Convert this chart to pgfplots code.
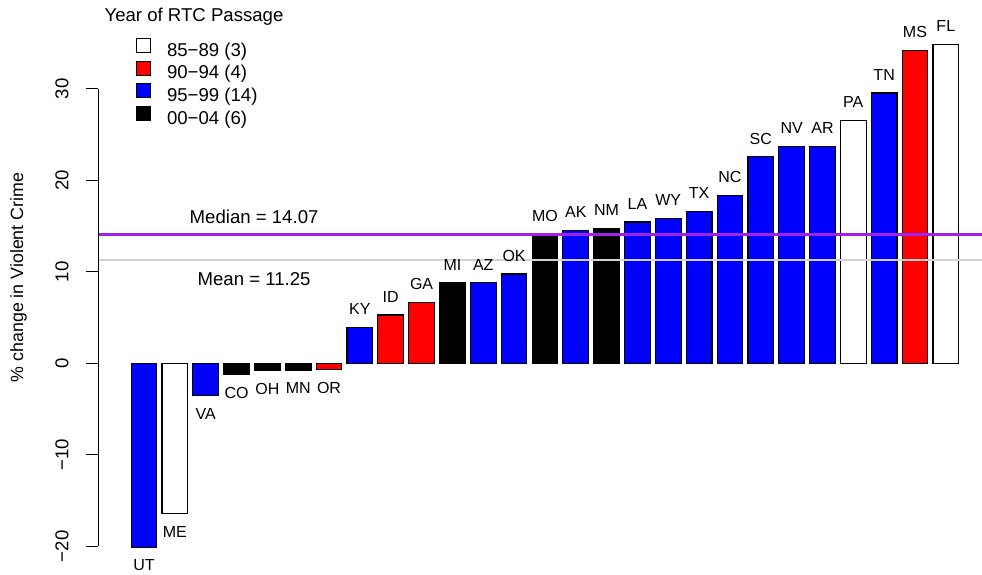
\documentclass[border=0pt]{standalone}
\usepackage{pgfplots}
\pgfplotsset{compat=1.18}
\usepackage{fontspec}
\setmainfont{Liberation Sans}
\definecolor{rpurple}{HTML}{A020F0}
\definecolor{rgray}{HTML}{D3D3D3}
\definecolor{rblue}{RGB}{0,0,255}
\definecolor{rred}{RGB}{255,0,0}
\pgfplotsset{
  legbox/.style={legend image code/.code={\draw[##1, line width=1pt] (0pt,-0.8pt) rectangle (14pt,13.2pt);}},
  statebar/.style={ybar, bar width=0.833, bar shift=0pt, draw=black, line width=1.1pt,
    nodes near coords, point meta=explicit symbolic,
    visualization depends on={y \as \rawy},
    every node near coord/.append style={anchor=center, text=black, inner sep=0pt,
      font=\fontsize{16}{19}\selectfont, yshift={\rawy<0 ? -18.3 : 18.3}},
    legbox},
}
\begin{document}
\begin{tikzpicture}[font=\fontsize{18.6}{22}\selectfont]
\useasboundingbox (0,0) rectangle (982pt,574pt);
\begin{axis}[
  at={(98pt,7.6pt)}, anchor=south west,
  scale only axis, width=884pt, height=543.5pt,
  xmin=-1.4916, xmax=27.173, ymin=-22.2, ymax=37.2,
  clip=false,
  axis x line=none,
  axis y line=left, y axis line style={draw=none, -},
  ytick={-20,-10,0,10,20,30},
  yticklabels={−20,−10,0,10,20,30},
  tick align=outside, major tick length=12pt,
  tick style={black, line width=1pt},
  yticklabel style={xshift=-24pt, rotate=90, anchor=center, inner sep=0pt},
  ylabel={\% change in Violent Crime},
  every axis y label/.style={at={(axis description cs:-0.0899,0.5316)}, rotate=90, anchor=center, font=\fontsize{17.8}{21}\selectfont},
  legend style={at={(0.0430,0.9722)}, anchor=north west, draw=none, fill=none,
    inner sep=0pt, outer sep=0pt, row sep=0pt, column sep=16pt,
    nodes={inner sep=0pt, text height=13.5pt, text depth=4.5pt}},
  legend cell align=left,
]
% 85-89 (white)
\addplot[statebar, fill=white] coordinates {
  (1,-16.44) [ME] (23,26.51) [PA] (26,34.82) [FL]};
% 90-94 (red)
\addplot[statebar, fill=rred] coordinates {
  (6,-0.66) [OR] (8,5.28) [ID] (9,6.62) [GA] (25,34.2) [MS]};
% 95-99 (blue)
\addplot[statebar, fill=rblue] coordinates {
  (0,-20.1) [UT] (2,-3.57) [VA] (7,3.93) [KY] (11,8.78) [AZ] (12,9.76) [OK]
  (14,14.5) [AK] (16,15.44) [LA] (17,15.8) [WY] (18,16.6) [TX] (19,18.32) [NC]
  (20,22.55) [SC] (21,23.71) [NV] (22,23.71) [AR] (24,29.54) [TN]};
% 00-04 (black)
\addplot[statebar, fill=black] coordinates {
  (3,-1.24) [CO] (4,-0.8) [OH] (5,-0.73) [MN] (10,8.78) [MI] (13,14.07) [MO] (15,14.75) [NM]};
\legend{85−89 (3), 90−94 (4), 95−99 (14), 00−04 (6)}
% median and mean
\addplot[rpurple, line width=2.2pt, forget plot] coordinates {(-1.4916,14.07) (27.173,14.07)};
\addplot[rgray, line width=2.2pt, forget plot] coordinates {(-1.4916,11.25) (27.173,11.25)};
\draw[line width=1pt] (axis cs:-1.4916,-20) -- (axis cs:-1.4916,30);
\node at (axis cs:3.57,16.0) {Median = 14.07};
\node at (axis cs:3.57,9.18) {Mean = 11.25};
\end{axis}
\node at (194pt,557pt) {Year of RTC Passage};
\end{tikzpicture}
\end{document}
